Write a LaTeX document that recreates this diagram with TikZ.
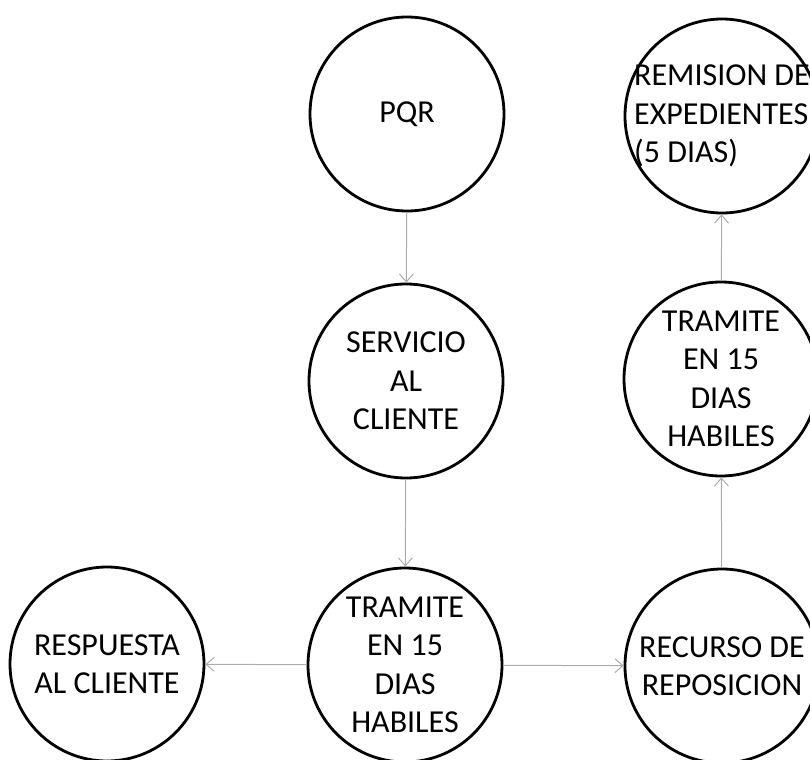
\documentclass[tikz,border=0pt]{standalone}
\usepackage{fontspec}
\setmainfont{Carlito}
\usetikzlibrary{arrows.meta}
\begin{document}
\begin{tikzpicture}[x=0.5pt, y=-0.5pt, ->, >={Straight Barb[length=4pt,width=7pt]},
    every node/.style={align=center, font=\fontsize{16}{19.2}\selectfont},
    estado/.style={circle, draw, line width=1.4pt, minimum size=97pt, inner sep=0pt},
    flecha/.style={gray!65, line width=0.5pt}]

            \useasboundingbox (0,0) rectangle (810,760);

            % Nodes
            \node[estado] (pqr) at (407,114) {PQR};
            \node[estado] (servicio) at (406,381) {SERVICIO\\AL\\CLIENTE};
            \node[estado] (tramite) at (405,665) {TRAMITE\\EN 15\\DIAS\\HABILES};
            \node[estado] (respuesta) at (107,664) {RESPUESTA\\AL CLIENTE};
            \node[estado] (recurso) at (722,666) {RECURSO DE\\REPOSICION};
            \node[estado] (tramite2) at (721,379) {TRAMITE\\EN 15\\DIAS\\HABILES};
            \node[estado, label={[align=left]center:REMISION DE\\EXPEDIENTES\\(5 DIAS)}] (remision) at (722,116) {};

            % Directed edges
            \draw[flecha] (pqr) -- (servicio);
            \draw[flecha] (servicio) -- (tramite);
            \draw[flecha] (tramite) -- (respuesta);
            \draw[flecha] (tramite) -- (recurso);
            \draw[flecha] (recurso) -- (tramite2);
            \draw[flecha] (tramite2) -- (remision);

          \end{tikzpicture}
\end{document}
